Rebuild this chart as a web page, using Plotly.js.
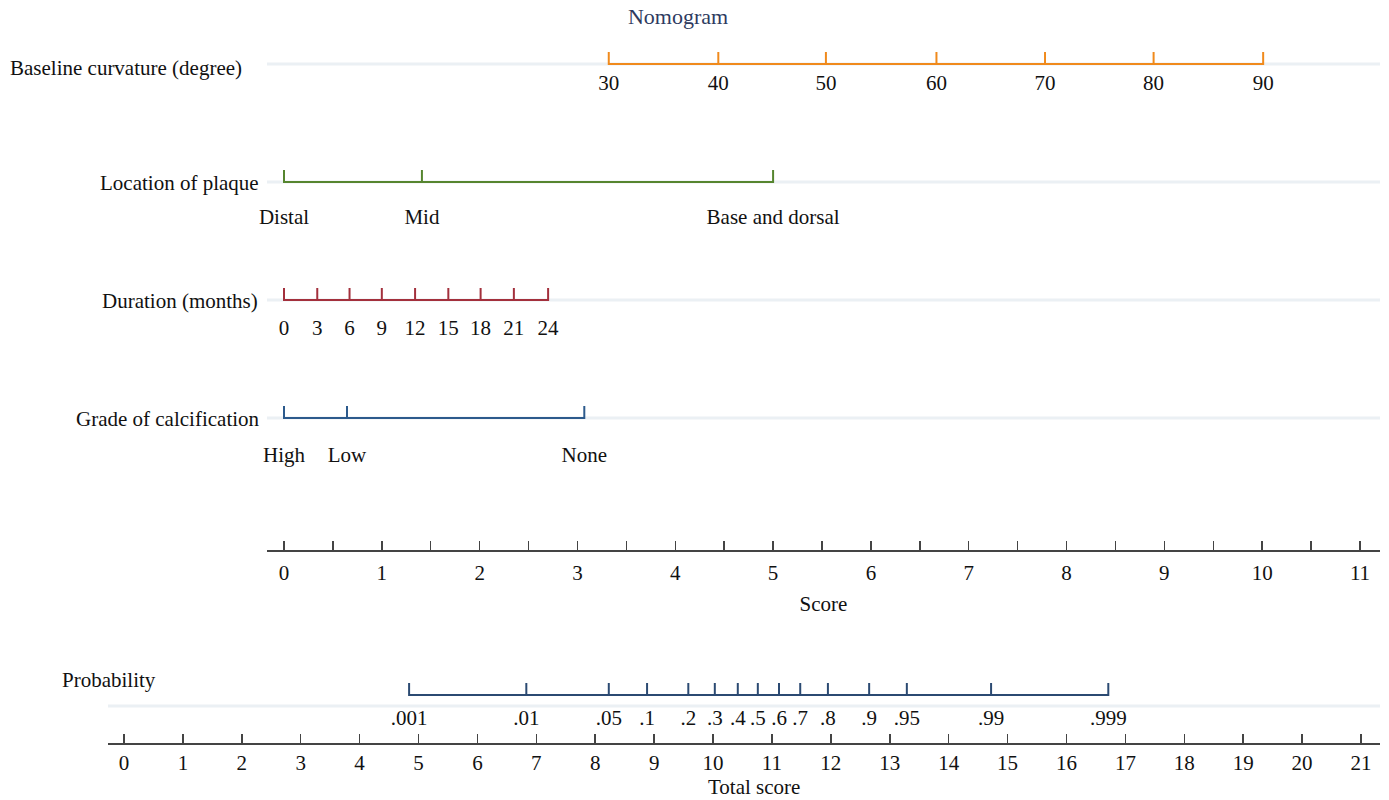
<!DOCTYPE html>
<html>
<head>
<meta charset="utf-8">
<script src="https://cdn.plot.ly/plotly-3.0.1.min.js"></script>
<style>html,body{margin:0;padding:0;background:#fff}#chart{width:1389px;height:800px}</style>
</head>
<body>
<div id="chart"></div>
<script>
// ---- data ----
const curvatureLabels = ['30','40','50','60','70','80','90'];
const curvaturePoints = [3.32, 4.44, 5.54, 6.67, 7.78, 8.89, 10.01];

const locationLabels = ['Distal','Mid','Base and dorsal'];
const locationPoints = [0, 1.41, 5.0];

const durationLabels = ['0','3','6','9','12','15','18','21','24'];
const durationPoints = [0, 0.34, 0.67, 1.0, 1.34, 1.68, 2.01, 2.35, 2.70];

const gradeLabels = ['High','Low','None'];
const gradePoints = [0, 0.644, 3.07];

const probLabels = ['.001','.01','.05','.1','.2','.3','.4','.5','.6','.7','.8','.9','.95','.99','.999'];
const probTotalPoints = [4.84, 6.83, 8.23, 8.88, 9.58, 10.03, 10.42, 10.76, 11.12, 11.48, 11.95, 12.65, 13.29, 14.72, 16.71];

const scoreTickValues = [0,0.5,1,1.5,2,2.5,3,3.5,4,4.5,5,5.5,6,6.5,7,7.5,8,8.5,9,9.5,10,10.5,11];
const scoreTickLabels = ['0','','1','','2','','3','','4','','5','','6','','7','','8','','9','','10','','11'];

const totalTickValues = [0,1,2,3,4,5,6,7,8,9,10,11,12,13,14,15,16,17,18,19,20,21];
const totalTickLabels = ['0','1','2','3','4','5','6','7','8','9','10','11','12','13','14','15','16','17','18','19','20','21'];

const rowNames = ['Baseline curvature (degree)','Location of plaque','Duration (months)','Grade of calcification','Probability'];

// ---- layout constants ----
const W = 1389, H = 800;
const FONT = 'Liberation Serif, Times New Roman, serif';
const FS = 21;
const scoreDomPx = [267, 1380], scoreZeroPx = 284, scorePerUnit = 1076/11;
const totalDomPx = [108, 1380], totalZeroPx = 124, totalPerUnit = 1237/21;
const scoreRange = scoreDomPx.map(p => (p - scoreZeroPx)/scorePerUnit);
const totalRange = totalDomPx.map(p => (p - totalZeroPx)/totalPerUnit);

const rows = [
  {pts: curvaturePoints, labels: curvatureLabels, color: '#F08A1C', y: 64, ly: 85, ax: 'x', ya: 'y'},
  {pts: locationPoints, labels: locationLabels, color: '#56852F', y: 182, ly: 219, ax: 'x', ya: 'y'},
  {pts: durationPoints, labels: durationLabels, color: '#A3303C', y: 300, ly: 330, ax: 'x', ya: 'y'},
  {pts: gradePoints, labels: gradeLabels, color: '#2C5A8C', y: 418, ly: 457, ax: 'x', ya: 'y'},
  {pts: probTotalPoints, labels: probLabels, color: '#2B4A72', y: 695, ly: 720, ax: 'x2', ya: 'y2'}
];
const TICK = 12;
const traces = [];
rows.forEach(r => {
  const rng = r.ax === 'x' ? scoreRange : totalRange;
  const yoff = r.ax === 'x' ? 0 : 11;
  traces.push({type:'scatter', mode:'lines', xaxis:r.ax, yaxis:r.ya, x:[rng[0], rng[1]], y:[r.y+yoff, r.y+yoff],
    line:{color:'#ebf0f4', width:3}, hoverinfo:'skip', showlegend:false});
  const mn = Math.min(...r.pts), mx = Math.max(...r.pts);
  traces.push({type:'scatter', mode:'lines', xaxis:r.ax, yaxis:r.ya, x:[mn, mx], y:[r.y, r.y],
    line:{color:r.color, width:2}, hoverinfo:'skip', showlegend:false});
  const tx = [], ty = [];
  r.pts.forEach(p => { tx.push(p, p, null); ty.push(r.y + 1, r.y - TICK, null); });
  traces.push({type:'scatter', mode:'lines', xaxis:r.ax, yaxis:r.ya, x:tx, y:ty,
    line:{color:r.color, width:2}, hoverinfo:'skip', showlegend:false});
  traces.push({type:'scatter', mode:'text', xaxis:r.ax, yaxis:r.ya, x:r.pts, y:r.pts.map(() => r.ly),
    text:r.labels, textposition:'middle center', textfont:{family:FONT, size:FS, color:'#111'},
    hoverinfo:'skip', showlegend:false, cliponaxis:false});
});

const annotations = [
  {text: rowNames[0], x: 8/W, xanchor:'left', y: 1-68/H},
  {text: rowNames[1], x: 261/W, xanchor:'right', y: 1-183/H},
  {text: rowNames[2], x: 260/W, xanchor:'right', y: 1-301/H},
  {text: rowNames[3], x: 262/W, xanchor:'right', y: 1-419/H},
  {text: rowNames[4], x: 60/W, xanchor:'left', y: 1-680/H},
  {text: 'Total score', x: 754/W, xanchor:'center', y: 1-787/H}
].map(a => Object.assign({xref:'paper', yref:'paper', yanchor:'middle', showarrow:false,
  font:{family:FONT, size:FS, color:'#111'}}, a));

const axisCommon = {
  anchor:'free', showgrid:false, zeroline:false, showline:true, linecolor:'#444', linewidth:2,
  ticks:'inside', tickcolor:'#444', tickwidth:1.5, ticklen:9, tickmode:'array',
  tickfont:{family:FONT, size:FS, color:'#111'}, fixedrange:true
};

const layout = {
  width: W, height: H, margin:{l:0, r:0, t:0, b:0}, paper_bgcolor:'#fff', plot_bgcolor:'rgba(0,0,0,0)',
  showlegend:false,
  title:{text:'Nomogram', x:678/W, xanchor:'center', y:1-16/H, yanchor:'middle',
    font:{family:FONT, size:22, color:'#2e3b5f'}},
  xaxis: Object.assign({}, axisCommon, {domain:[scoreDomPx[0]/W, scoreDomPx[1]/W], range:scoreRange,
    position:(H-551)/H, tickvals:scoreTickValues, ticktext:scoreTickLabels, ticklabelstandoff:3,
    title:{text:'Score', font:{family:FONT, size:FS, color:'#111'}, standoff:11}}),
  xaxis2: Object.assign({}, axisCommon, {domain:[totalDomPx[0]/W, totalDomPx[1]/W], range:totalRange,
    position:(H-744)/H, tickvals:totalTickValues, ticktext:totalTickLabels}),
  yaxis: {domain:[0,1], range:[H, 0], visible:false, fixedrange:true, anchor:'x'},
  yaxis2: {domain:[0,1], range:[H, 0], visible:false, fixedrange:true, anchor:'x2'},
  annotations: annotations
};

Plotly.newPlot('chart', traces, layout, {displayModeBar:false, staticPlot:true});
</script>
</body>
</html>
